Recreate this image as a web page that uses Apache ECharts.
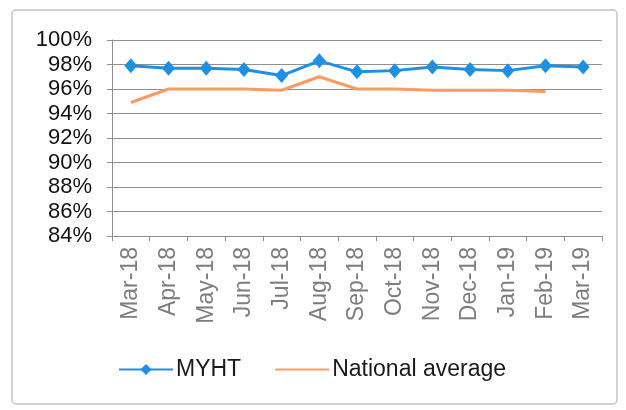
<!DOCTYPE html>
<html>
<head>
<meta charset="utf-8">
<script src="https://cdn.jsdelivr.net/npm/echarts@6/dist/echarts.min.js"></script>
<style>
  html, body { margin: 0; padding: 0; background: #ffffff; }
  #chart { width: 626px; height: 410px; }
</style>
</head>
<body>
<div id="chart"></div>
<script>
// Monthly compliance rate, MYHT vs national average
const months = ['Mar-18', 'Apr-18', 'May-18', 'Jun-18', 'Jul-18', 'Aug-18', 'Sep-18',
                'Oct-18', 'Nov-18', 'Dec-18', 'Jan-19', 'Feb-19', 'Mar-19'];
const myht = [97.9, 97.7, 97.7, 97.6, 97.1, 98.3, 97.4, 97.5, 97.8, 97.6, 97.5, 97.9, 97.8];
const nationalAverage = [94.9, 96.0, 96.0, 96.0, 95.9, 97.0, 96.0, 96.0, 95.9, 95.9, 95.9, 95.8, null];
const yMin = 84, yMax = 100, yStep = 2;

const FONT = '"Liberation Sans", Arial, sans-serif';
const GRID_GREY = '#8e8e8e';

const chart = echarts.init(document.getElementById('chart'), null, { renderer: 'canvas' });

chart.setOption({
  animation: false,
  backgroundColor: '#ffffff',
  textStyle: { fontFamily: FONT },
  graphic: [{
    type: 'rect',
    shape: { x: 12, y: 10, width: 605, height: 394, r: 4 },
    style: { fill: 'none', stroke: '#c4c4c4', lineWidth: 1.5 },
    silent: true
  }],
  grid: { left: 112, right: 24, top: 40, bottom: 174 },
  xAxis: {
    type: 'category',
    data: months,
    boundaryGap: true,
    axisLine: { show: true, lineStyle: { color: GRID_GREY, width: 1 } },
    axisTick: { show: true, length: 5, alignWithLabel: false, lineStyle: { color: GRID_GREY } },
    axisLabel: {
      rotate: 90,
      margin: 11,
      interval: 0,
      color: '#7d7d7d',
      fontSize: 23,
      fontFamily: FONT
    },
    splitLine: { show: false }
  },
  yAxis: {
    type: 'value',
    min: yMin,
    max: yMax,
    interval: yStep,
    axisLine: { show: true, lineStyle: { color: GRID_GREY, width: 1 } },
    axisTick: { show: true, length: 5, lineStyle: { color: GRID_GREY } },
    axisLabel: {
      margin: 20,
      color: '#111111',
      fontSize: 22,
      fontFamily: FONT,
      formatter: v => v + '%'
    },
    splitLine: { show: true, lineStyle: { color: GRID_GREY, width: 1 } }
  },
  legend: {
    left: 113,
    top: 353,
    itemWidth: 54,
    itemHeight: 14,
    itemGap: 33,
    textStyle: { fontSize: 23, color: '#1a1a1a', fontFamily: FONT, padding: [0, 0, 0, -2] },
    data: [
      { name: 'MYHT' },
      { name: 'National average', itemStyle: { opacity: 0 } }
    ]
  },
  series: [
    {
      name: 'National average',
      type: 'line',
      data: nationalAverage,
      symbol: 'none',
      lineStyle: { color: '#fb9b64', width: 3 },
      itemStyle: { color: '#fb9b64' },
      z: 2
    },
    {
      name: 'MYHT',
      type: 'line',
      data: myht,
      symbol: 'diamond',
      symbolSize: [13, 15],
      lineStyle: { color: '#1d90e4', width: 3 },
      itemStyle: { color: '#1d90e4' },
      z: 3
    }
  ]
});
</script>
</body>
</html>
